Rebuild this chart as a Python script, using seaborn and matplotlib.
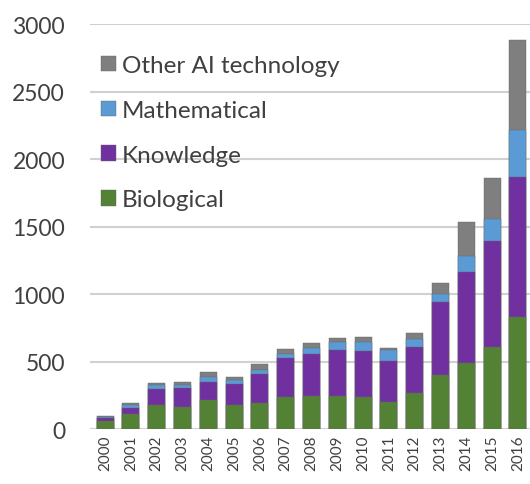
import numpy as np
import pandas as pd
import seaborn as sns
import matplotlib.pyplot as plt

years = [str(y) for y in range(2000, 2017)]
biological = [59, 111, 178, 163, 215, 178, 192, 237, 244, 244, 237, 200, 266, 400, 493, 606, 830]
knowledge = [22, 44, 118, 140, 133, 155, 215, 288, 311, 340, 340, 303, 340, 539, 673, 787, 1036]
mathematical = [8, 23, 29, 27, 37, 29, 29, 30, 44, 59, 66, 81, 60, 59, 116, 167, 353]
other_ai = [7, 14, 15, 18, 37, 23, 45, 37, 37, 30, 37, 15, 44, 88, 256, 302, 666]

series = ["Biological", "Knowledge", "Mathematical", "Other AI technology"]
colors = {"Biological": "#548235", "Knowledge": "#7030a0",
          "Mathematical": "#5b9bd5", "Other AI technology": "#7f7f7f"}

df = pd.DataFrame({"year": years, "Biological": biological, "Knowledge": knowledge,
                   "Mathematical": mathematical, "Other AI technology": other_ai})
cum = df[series].cumsum(axis=1)

sns.set_theme(style="white")
plt.rcParams["font.family"] = ["Lato", "DejaVu Sans"]

fig = plt.figure(figsize=(5.3, 4.85), dpi=100)
ax = fig.add_axes([0.17, 0.113, 0.83, 0.835])

# draw the running totals from the top layer down so each layer shows its own slice
for s in reversed(series):
    sns.barplot(x=df["year"], y=cum[s], color=colors[s], label=s, width=0.66,
                saturation=1, edgecolor="#666666", linewidth=0.3, ax=ax, zorder=3)

ax.set_ylim(0, 3000)
ax.set_xlim(-0.58, 16.47)
ax.set_yticks([0, 500, 1000, 1500, 2000, 2500, 3000])
ax.yaxis.grid(True, color="#d0d0d0", linewidth=1.5, zorder=0)
ax.set_axisbelow(True)
for sp in ax.spines.values():
    sp.set_visible(False)
ax.set_xlabel("")
ax.set_ylabel("")
ax.tick_params(axis="y", labelsize=16.5, colors="#404040", pad=18, length=0)
ax.tick_params(axis="x", labelsize=11, colors="#404040", rotation=90, length=0, pad=4)

ax.legend(loc="upper left", bbox_to_anchor=(-0.025, 0.978), frameon=False, fontsize=17.5,
          handlelength=0.6, handleheight=0.6, handletextpad=0.25, labelspacing=0.98,
          labelcolor="#404040")

fig.savefig("out.png", dpi=100)
